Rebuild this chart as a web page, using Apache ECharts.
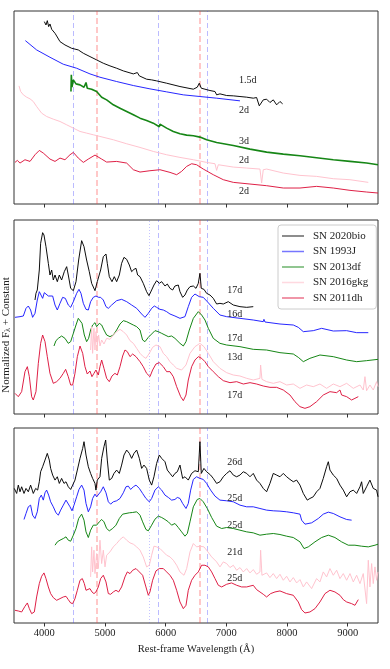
<!DOCTYPE html>
<html>
<head>
<meta charset="utf-8">
<script src="https://cdn.jsdelivr.net/npm/echarts@6/dist/echarts.min.js"></script>
<style>
  html, body { margin: 0; padding: 0; background: #fff; }
  #main { width: 390px; height: 669px; }
</style>
</head>
<body>
<div id="main"></div>
<script>
// wavelength ticks (Angstrom)
var waveTicks = [4000, 5000, 6000, 7000, 8000, 9000];

var snNames = ['SN 2020bio', 'SN 1993J', 'SN 2013df', 'SN 2016gkg', 'SN 2011dh'];

// line ids, Angstrom
var heLines = [4471, 5876, 6678];
var hLines = [4861, 6563];
var dotLines = [5730];

// ---- panel 1 : early epochs ----
var bio_1 = [[4000,5.48],[4027,5.38],[4049,5.51],[4071,5.33],[4093,5.41],[4121,5.25],[4148,5.23],[4176,5.13],[4203,5.05],[4231,5.01],[4258,4.88],[4285,4.85],[4340,4.78],[4450,4.68],[4560,4.63],[4643,4.53],[4752,4.43],[4862,4.33],[4972,4.23],[5082,4.15],[5192,4.08],[5302,4.00],[5467,3.91],[5533,3.95],[5566,3.85],[5686,3.75],[5769,3.73],[5851,3.70],[6016,3.63],[6236,3.53],[6456,3.45],[6521,3.51],[6554,3.63],[6587,3.48],[6648,3.45],[6730,3.41],[6813,3.38],[6840,3.28],[6895,3.31],[7005,3.26],[7115,3.25],[7225,3.23],[7335,3.21],[7444,3.18],[7499,3.20],[7543,2.95],[7609,3.13],[7664,3.15],[7719,3.05],[7774,3.13],[7829,2.98],[7884,3.08],[7928,3.01]];
var j93_1 = [[3687,4.91],[3873,4.63],[4093,4.41],[4313,4.20],[4533,4.08],[4752,3.91],[4917,3.81],[5192,3.68],[5467,3.56],[5741,3.46],[6016,3.37],[6291,3.28],[6565,3.23],[6840,3.18],[7225,3.10]];
var df_1 = [[4439,3.38],[4445,3.88],[4456,3.51],[4478,3.73],[4522,3.61],[4588,3.58],[4654,3.51],[4687,3.65],[4708,3.48],[4780,3.45],[4862,3.38],[4945,3.21],[5027,3.13],[5137,2.98],[5247,2.88],[5357,2.78],[5467,2.68],[5577,2.58],[5686,2.51],[5796,2.43],[5895,2.32],[5906,2.40],[6016,2.28],[6126,2.18],[6236,2.11],[6346,2.07],[6456,2.05],[6565,2.01],[6675,1.93],[6840,1.85],[7115,1.76],[7390,1.65],[7664,1.56],[7939,1.50],[8214,1.45],[8488,1.39],[8763,1.33],[9038,1.28],[9312,1.23],[9500,1.18]];
var gkg_1 = [[3582,3.55],[3610,3.38],[3654,3.28],[3709,3.21],[3764,3.16],[3818,3.08],[3873,2.93],[3956,2.73],[4038,2.63],[4148,2.55],[4258,2.48],[4368,2.38],[4478,2.28],[4588,2.18],[4697,2.13],[4807,2.08],[4917,2.03],[5137,1.93],[5357,1.81],[5577,1.70],[5796,1.58],[6016,1.48],[6236,1.40],[6456,1.33],[6675,1.25],[6813,1.21],[6840,1.01],[6868,1.18],[7115,1.11],[7335,1.08],[7554,1.05],[7582,0.63],[7609,1.03],[7664,1.05],[7939,0.93],[8214,0.86],[8488,0.83],[8763,0.76],[9038,0.73],[9340,0.65]];
var dh_1 = [[3516,1.25],[3555,1.31],[3599,1.23],[3681,1.33],[3764,1.28],[3846,1.48],[3917,1.61],[3983,1.53],[4093,1.35],[4176,1.28],[4258,1.38],[4340,1.33],[4423,1.48],[4478,1.55],[4560,1.38],[4643,1.25],[4725,1.35],[4835,1.47],[4945,1.35],[5027,1.26],[5192,1.28],[5357,1.23],[5467,1.03],[5577,0.96],[5741,1.00],[5906,1.03],[6071,0.95],[6181,0.88],[6263,0.98],[6346,1.13],[6428,1.21],[6510,1.18],[6620,1.05],[6785,0.88],[6950,0.73],[7115,0.65],[7390,0.60],[7664,0.55],[7939,0.48],[8214,0.48],[8488,0.53],[8763,0.48],[9038,0.41],[9312,0.36],[9500,0.33]];

// ---- panel 2 : ~2 weeks ----
var bio_2 = [[3846,3.42],[3862,3.62],[3884,3.72],[3917,4.32],[3939,5.12],[3972,5.44],[3994,5.37],[4027,5.02],[4066,4.52],[4093,4.17],[4121,4.32],[4148,4.02],[4176,4.17],[4214,3.97],[4247,4.17],[4285,4.02],[4329,4.27],[4368,4.42],[4395,4.17],[4434,3.77],[4478,3.70],[4522,3.97],[4566,4.62],[4615,5.20],[4654,5.02],[4697,4.62],[4741,4.27],[4780,3.92],[4835,3.70],[4873,3.97],[4928,4.32],[4972,4.72],[5016,4.80],[5038,4.52],[5071,4.12],[5115,3.97],[5153,4.12],[5192,3.97],[5236,4.17],[5274,4.52],[5313,4.70],[5357,4.64],[5401,4.47],[5439,4.27],[5478,4.34],[5511,4.37],[5538,4.17],[5577,4.12],[5631,3.92],[5686,3.67],[5725,3.55],[5769,3.72],[5807,3.87],[5851,4.00],[5895,3.92],[5934,3.97],[5989,3.84],[6027,3.90],[6071,3.77],[6115,3.72],[6153,3.84],[6208,3.87],[6236,3.67],[6280,3.50],[6318,3.57],[6357,3.72],[6401,3.82],[6456,3.84],[6500,3.77],[6538,3.92],[6565,4.22],[6587,3.77],[6631,3.74],[6675,3.62],[6730,3.57],[6785,3.47],[6840,3.30],[6895,3.32],[6950,3.30],[7032,3.37],[7115,3.27],[7225,3.22],[7335,3.20],[7444,3.22]];
var j93_2 = [[3516,2.90],[3599,2.92],[3654,2.94],[3698,3.17],[3736,3.24],[3774,3.12],[3807,2.90],[3846,3.02],[3884,3.42],[3917,3.67],[3945,3.57],[3972,3.47],[4000,3.64],[4027,3.70],[4066,3.54],[4093,3.50],[4137,3.54],[4176,3.27],[4214,3.12],[4258,3.32],[4302,3.50],[4346,3.47],[4395,3.27],[4434,3.20],[4478,3.37],[4533,3.62],[4571,3.74],[4604,3.62],[4643,3.32],[4687,3.14],[4725,3.12],[4763,3.37],[4807,3.50],[4851,3.54],[4895,3.50],[4928,3.50],[4972,3.42],[5016,3.22],[5055,3.17],[5110,3.27],[5192,3.40],[5274,3.44],[5357,3.37],[5439,3.27],[5522,3.17],[5604,3.00],[5659,2.90],[5714,3.02],[5769,3.17],[5813,3.24],[5851,3.20],[5906,3.14],[5961,3.12],[6016,3.07],[6071,3.00],[6153,2.94],[6236,2.87],[6318,2.92],[6373,3.22],[6428,3.50],[6483,3.60],[6554,3.52],[6620,3.50],[6686,3.37],[6785,3.17],[6895,2.97],[7005,2.92],[7225,2.87],[7444,2.82],[7609,2.77],[7620,2.84],[7637,2.76],[7884,2.70],[8104,2.67],[8186,2.60],[8269,2.47],[8433,2.50],[8571,2.57],[8763,2.49],[8983,2.50],[9148,2.44],[9340,2.44]];
var df_2 = [[4159,2.04],[4192,2.20],[4231,2.27],[4285,2.34],[4340,2.27],[4395,2.12],[4434,2.17],[4478,2.42],[4522,2.67],[4560,2.87],[4588,2.90],[4621,2.72],[4659,2.37],[4697,2.17],[4730,2.27],[4763,2.52],[4796,2.67],[4835,2.74],[4862,2.62],[4906,2.72],[4945,2.67],[4983,2.52],[5027,2.37],[5082,2.32],[5137,2.37],[5192,2.52],[5247,2.70],[5302,2.80],[5357,2.77],[5412,2.72],[5467,2.67],[5522,2.62],[5577,2.52],[5620,2.22],[5659,2.17],[5714,2.30],[5769,2.40],[5824,2.50],[5879,2.47],[5934,2.42],[5989,2.37],[6044,2.32],[6098,2.34],[6153,2.27],[6236,2.12],[6291,2.04],[6335,2.17],[6390,2.52],[6456,2.87],[6538,3.07],[6593,2.97],[6648,2.82],[6703,2.57],[6785,2.27],[6895,2.12],[7005,2.07],[7225,2.02],[7444,1.94],[7664,1.92],[7884,1.84],[8104,1.80],[8186,1.70],[8269,1.57],[8378,1.67],[8543,1.77],[8763,1.72],[8983,1.62],[9148,1.57],[9312,1.60],[9500,1.64]];
var gkg_2 = [[4763,1.92],[4780,2.62],[4796,1.82],[4818,2.57],[4835,1.92],[4851,2.47],[4873,2.07],[4895,2.37],[4917,2.04],[4945,2.22],[4983,2.10],[5027,2.27],[5082,2.24],[5137,2.37],[5192,2.47],[5247,2.54],[5302,2.47],[5357,2.37],[5412,2.20],[5467,2.12],[5522,1.97],[5577,1.82],[5631,1.72],[5675,1.67],[5730,1.82],[5785,2.00],[5840,2.07],[5906,2.02],[5961,1.82],[6016,1.72],[6071,1.57],[6126,1.47],[6181,1.37],[6263,1.32],[6335,1.47],[6401,1.82],[6483,2.02],[6565,2.12],[6631,2.02],[6703,1.82],[6785,1.57],[6895,1.37],[7005,1.24],[7115,1.17],[7225,1.14],[7335,1.07],[7444,1.02],[7554,1.07],[7565,1.47],[7587,1.04],[7664,0.97],[7774,0.92],[7884,0.97],[7994,0.87],[8104,0.90],[8214,0.77],[8323,0.87],[8433,0.82],[8543,0.90],[8653,0.77],[8763,0.90],[8873,0.82],[8983,0.92],[9093,0.77],[9203,0.87],[9257,0.72],[9285,1.12],[9312,0.70],[9367,0.87],[9422,0.72],[9477,0.97],[9500,0.82]];
var dh_2 = [[3516,0.62],[3571,0.52],[3626,0.67],[3681,1.27],[3720,1.42],[3753,1.12],[3791,0.52],[3818,0.42],[3862,0.67],[3901,1.52],[3939,2.12],[3972,2.37],[4011,2.17],[4049,1.72],[4093,1.22],[4148,0.92],[4203,0.97],[4258,1.07],[4313,1.22],[4351,1.34],[4395,1.12],[4434,0.87],[4467,0.87],[4505,1.22],[4544,1.72],[4588,2.04],[4632,1.82],[4670,1.42],[4708,1.20],[4752,1.29],[4785,1.12],[4818,1.22],[4851,1.32],[4890,1.17],[4917,1.42],[4945,1.62],[4983,1.37],[5027,1.07],[5071,0.97],[5115,1.14],[5164,1.22],[5203,1.17],[5247,1.42],[5291,1.74],[5329,1.92],[5368,1.87],[5412,1.72],[5456,1.80],[5511,1.72],[5577,1.57],[5631,1.42],[5686,1.22],[5741,1.12],[5785,1.32],[5840,1.50],[5895,1.54],[5961,1.42],[6016,1.27],[6071,1.27],[6126,1.12],[6181,0.82],[6247,0.52],[6291,0.40],[6335,0.57],[6373,1.02],[6428,1.42],[6483,1.62],[6538,1.72],[6593,1.67],[6648,1.57],[6703,1.42],[6785,1.27],[6868,1.12],[6950,1.00],[7060,0.94],[7170,0.97],[7280,0.90],[7390,0.94],[7499,0.90],[7609,0.84],[7719,0.80],[7829,0.80],[7939,0.72],[8049,0.57],[8131,0.37],[8214,0.22],[8296,0.17],[8378,0.22],[8488,0.37],[8598,0.57],[8708,0.67],[8818,0.64],[8873,0.72],[8900,0.57],[8983,0.52],[9065,0.42],[9120,0.47],[9175,0.52]];

// ---- panel 3 : ~3-4 weeks ----
var bio_3 = [[3505,4.03],[3544,3.88],[3571,4.13],[3599,3.93],[3626,4.08],[3665,3.88],[3698,4.03],[3736,3.93],[3774,4.13],[3818,3.88],[3857,4.03],[3890,3.98],[3917,4.23],[3939,4.53],[3972,4.68],[4011,4.88],[4049,5.08],[4082,4.88],[4104,4.63],[4137,4.43],[4176,4.28],[4214,4.38],[4247,4.18],[4285,4.33],[4324,4.18],[4357,4.23],[4395,4.08],[4434,4.00],[4467,4.13],[4505,4.28],[4544,4.58],[4588,4.93],[4632,5.23],[4654,5.43],[4687,5.03],[4725,4.68],[4763,4.48],[4796,4.33],[4835,4.18],[4851,3.98],[4873,4.28],[4917,4.38],[4945,4.93],[4983,5.28],[5011,5.48],[5038,4.88],[5071,4.28],[5110,4.33],[5148,4.48],[5192,4.58],[5236,4.48],[5274,4.73],[5313,5.03],[5357,5.18],[5401,5.08],[5439,4.93],[5478,5.08],[5522,5.18],[5566,4.93],[5604,4.63],[5642,4.73],[5686,4.63],[5730,4.28],[5769,4.13],[5807,4.38],[5851,4.78],[5895,5.03],[5934,4.93],[5989,4.83],[6027,4.58],[6071,4.48],[6115,4.38],[6153,4.48],[6192,4.53],[6236,4.73],[6280,4.33],[6318,4.38],[6373,4.28],[6428,4.48],[6483,4.56],[6538,4.53],[6565,5.43],[6587,4.48],[6631,4.63],[6675,4.53],[6741,4.43],[6785,4.33],[6840,4.18],[6895,4.23],[6950,4.38],[7005,4.48],[7060,4.56],[7115,4.43],[7170,4.38],[7225,4.43],[7280,4.53],[7335,4.48],[7390,4.38],[7444,4.48],[7499,4.28],[7554,4.18],[7609,4.03],[7664,3.93],[7719,4.18],[7774,4.48],[7829,4.43],[7884,4.38],[7939,4.48],[7994,4.38],[8049,4.30],[8104,4.23],[8159,4.28],[8214,4.13],[8269,3.88],[8334,3.68],[8378,3.73],[8433,3.78],[8488,3.93],[8543,4.03],[8598,4.33],[8653,4.68],[8681,4.83],[8708,4.58],[8763,4.43],[8818,4.33],[8873,4.13],[8928,3.98],[8983,3.78],[9038,3.93],[9093,3.98],[9148,3.88],[9203,4.08],[9230,4.23],[9257,3.88],[9312,4.08],[9367,4.28],[9422,4.03],[9477,3.98],[9500,3.78]];
var j93_3 = [[3665,3.10],[3698,3.28],[3736,3.48],[3774,3.53],[3807,3.23],[3846,3.13],[3884,3.33],[3917,3.73],[3950,3.83],[3983,3.68],[4011,3.90],[4038,3.98],[4071,3.83],[4104,3.63],[4148,3.48],[4192,3.30],[4231,3.23],[4269,3.38],[4313,3.53],[4357,3.68],[4384,3.71],[4423,3.48],[4456,3.36],[4489,3.53],[4533,3.78],[4571,4.00],[4615,4.13],[4654,3.98],[4687,3.58],[4725,3.33],[4763,3.48],[4796,3.73],[4835,3.86],[4862,3.78],[4890,3.73],[4928,3.93],[4972,4.08],[5016,3.90],[5055,3.63],[5093,3.56],[5137,3.63],[5192,3.66],[5247,3.73],[5302,3.90],[5346,4.08],[5384,4.10],[5423,4.00],[5467,4.08],[5511,4.13],[5566,4.03],[5620,3.88],[5675,3.73],[5730,3.63],[5769,3.73],[5824,3.98],[5879,4.08],[5934,3.98],[5989,3.83],[6044,3.76],[6098,3.68],[6153,3.70],[6192,3.76],[6236,3.73],[6280,3.58],[6335,3.43],[6373,3.58],[6412,3.98],[6456,4.30],[6510,4.38],[6565,4.33],[6620,4.30],[6675,4.18],[6741,3.98],[6813,3.80],[6895,3.68],[7005,3.66],[7115,3.63],[7225,3.53],[7335,3.48],[7444,3.48],[7554,3.43],[7664,3.38],[7774,3.36],[7884,3.35],[7994,3.33],[8104,3.30],[8214,3.26],[8241,3.08],[8296,2.96],[8406,3.00],[8516,3.13],[8598,3.26],[8681,3.32],[8763,3.28],[8873,3.18],[8983,3.10],[9065,3.08]];
var df_3 = [[4176,2.33],[4214,2.43],[4258,2.48],[4313,2.53],[4357,2.58],[4395,2.48],[4434,2.45],[4478,2.63],[4522,2.83],[4566,3.13],[4615,3.26],[4654,3.08],[4687,2.73],[4725,2.56],[4763,2.78],[4807,2.93],[4835,2.98],[4862,2.93],[4906,3.03],[4945,3.10],[4983,3.03],[5027,2.83],[5071,2.76],[5126,2.83],[5181,2.93],[5236,3.13],[5291,3.26],[5346,3.28],[5401,3.30],[5456,3.31],[5522,3.33],[5577,3.23],[5620,3.03],[5675,2.80],[5714,2.76],[5769,2.93],[5824,3.11],[5879,3.20],[5934,3.16],[5989,3.10],[6044,3.03],[6098,2.93],[6153,2.98],[6208,2.86],[6263,2.73],[6318,2.60],[6357,2.68],[6401,3.03],[6456,3.48],[6521,3.70],[6565,3.73],[6620,3.63],[6686,3.43],[6758,3.16],[6840,2.90],[6923,2.83],[7005,2.86],[7115,2.83],[7225,2.78],[7335,2.73],[7444,2.70],[7554,2.63],[7664,2.66],[7774,2.68],[7884,2.65],[7994,2.60],[8104,2.56],[8214,2.43],[8280,2.23],[8351,2.28],[8461,2.43],[8571,2.56],[8681,2.63],[8790,2.56],[8900,2.43],[9010,2.33],[9120,2.33],[9230,2.30],[9340,2.28],[9450,2.33],[9500,2.36]];
var gkg_3 = [[4763,1.38],[4780,2.28],[4796,1.53],[4818,2.18],[4835,1.48],[4862,2.08],[4890,1.63],[4917,2.48],[4945,1.78],[4972,2.18],[5000,1.68],[5027,2.03],[5082,2.13],[5137,2.28],[5192,2.38],[5247,2.50],[5302,2.58],[5357,2.48],[5412,2.40],[5467,2.36],[5522,2.28],[5577,2.18],[5631,1.98],[5686,1.68],[5730,1.73],[5769,2.03],[5807,2.30],[5851,2.28],[5906,2.23],[5961,2.13],[6016,2.03],[6071,1.98],[6126,1.88],[6181,1.73],[6236,1.53],[6302,1.43],[6346,1.63],[6401,2.13],[6456,2.38],[6510,2.28],[6565,2.30],[6631,2.28],[6675,2.18],[6758,1.98],[6840,1.83],[6895,1.68],[6950,1.83],[7005,1.78],[7060,1.66],[7115,1.73],[7170,1.58],[7225,1.66],[7280,1.53],[7335,1.63],[7390,1.50],[7444,1.60],[7499,1.46],[7554,1.53],[7565,2.18],[7587,1.43],[7664,1.50],[7719,1.36],[7774,1.48],[7829,1.33],[7884,1.46],[7939,1.28],[7994,1.40],[8049,1.23],[8104,1.36],[8159,1.20],[8214,1.30],[8269,1.08],[8323,1.23],[8406,1.03],[8488,1.33],[8543,1.23],[8598,1.53],[8653,1.38],[8708,1.63],[8763,1.43],[8818,1.58],[8873,1.33],[8928,1.48],[8983,1.28],[9038,1.48],[9093,1.23],[9148,1.43],[9203,1.18],[9257,1.48],[9312,0.58],[9340,1.88],[9367,1.08],[9395,1.78],[9422,1.18],[9450,1.68],[9477,1.28],[9500,1.53]];
var dh_3 = [[3516,0.38],[3571,0.36],[3626,0.33],[3681,0.50],[3720,0.60],[3753,0.43],[3791,0.28],[3835,0.33],[3873,0.78],[3917,1.18],[3956,1.40],[3994,1.50],[4027,1.33],[4066,1.08],[4104,0.88],[4148,0.76],[4203,0.68],[4258,0.73],[4313,0.78],[4357,0.80],[4395,0.70],[4434,0.60],[4467,0.58],[4505,0.73],[4544,0.98],[4588,1.28],[4626,1.33],[4659,1.18],[4687,0.98],[4719,1.03],[4752,1.03],[4785,0.93],[4818,0.88],[4851,0.93],[4890,1.08],[4928,1.33],[4972,1.43],[5016,1.23],[5055,0.88],[5093,0.86],[5137,0.93],[5181,0.98],[5225,0.93],[5274,1.08],[5329,1.38],[5368,1.53],[5412,1.48],[5456,1.58],[5511,1.63],[5566,1.53],[5620,1.43],[5675,1.08],[5714,0.83],[5741,0.93],[5785,1.28],[5840,1.56],[5895,1.63],[5961,1.63],[6016,1.53],[6071,1.43],[6126,1.28],[6181,0.98],[6236,0.63],[6291,0.43],[6335,0.53],[6373,0.98],[6428,1.28],[6483,1.43],[6538,1.53],[6593,1.73],[6648,1.73],[6703,1.68],[6758,1.53],[6813,1.33],[6868,1.13],[6923,1.08],[7005,1.16],[7087,1.20],[7170,1.13],[7252,1.08],[7335,1.08],[7444,1.13],[7499,1.00],[7554,0.93],[7609,0.86],[7664,0.78],[7730,0.88],[7802,0.93],[7884,0.96],[7994,0.88],[8104,0.83],[8186,0.63],[8241,0.40],[8296,0.30],[8378,0.33],[8461,0.43],[8543,0.63],[8626,0.88],[8708,0.98],[8790,0.93],[8873,0.83],[8928,0.70],[8983,0.63],[9065,0.58],[9120,0.53],[9175,0.70]];

// epochs (days) shown next to each spectrum
var epochs_1 = ['1.5d', '2d', '3d', '2d', '2d'];
var epochs_2 = ['17d', '16d', '17d', '13d', '17d'];
var epochs_3 = ['26d', '25d', '25d', '21d', '25d'];
// where the epoch text sits [wavelength, flux]
var epochAt_1 = [[7202,3.73],[7202,2.81],[7202,1.88],[7202,1.31],[7202,0.38]];
var epochAt_2 = [[7005,3.72],[7005,2.99],[7005,2.27],[7005,1.69],[7005,0.55]];
var epochAt_3 = [[7005,4.80],[7005,3.73],[7005,2.93],[7005,2.11],[7005,1.35]];

var panels = [
    [bio_1, j93_1, df_1, gkg_1, dh_1],
    [bio_2, j93_2, df_2, gkg_2, dh_2],
    [bio_3, j93_3, df_3, gkg_3, dh_3]
];
var epochs = [epochs_1, epochs_2, epochs_3];
var epochAt = [epochAt_1, epochAt_2, epochAt_3];

var dom = document.getElementById('main');
var myChart = echarts.init(dom, null, {renderer: 'canvas'});

var serif = 'Liberation Serif';
var colors = ['#000000', '#1a1aff', '#0a800a', '#ffc0cb', '#dc143c'];
var yMax = [5.8, 5.82, 5.84];
var gridTop = [11, 220, 428];
var gridH = [193, 194, 195];

function vlines(p) {
    var out = [];
    heLines.forEach(function(w) {
        out.push({xAxis: w, lineStyle: {color: 'rgba(60,60,255,0.35)', type: [5, 3], width: 1}});
    });
    hLines.forEach(function(w) {
        out.push({xAxis: w, lineStyle: {color: 'rgba(255,60,60,0.35)', type: [6, 3], width: 1.6}});
    });
    if (p > 0) {
        dotLines.forEach(function(w) {
            out.push({xAxis: w, lineStyle: {color: 'rgba(90,90,255,0.35)', type: [1, 2], width: 1}});
        });
    }
    return out;
}

var grids = [], xAxes = [], yAxes = [], series = [];
for (var p = 0; p < 3; p++) {
    grids.push({left: 14, width: 364, top: gridTop[p], height: gridH[p],
        show: true, borderColor: '#333', borderWidth: 1, backgroundColor: 'transparent'});
    xAxes.push({
        type: 'value', gridIndex: p, min: 3500, max: 9500,
        axisLine: {show: false},
        axisTick: {show: true, inside: false, length: 3.5, customValues: waveTicks,
            lineStyle: {color: '#333', width: 1}},
        axisLabel: {show: p === 2, customValues: waveTicks, margin: 5,
            formatter: function(v) { return String(v); },
            fontFamily: serif, fontSize: 10.5, color: '#222'},
        splitLine: {show: false},
        name: p === 2 ? 'Rest-frame Wavelength (\u00c5)' : '',
        nameLocation: 'middle', nameGap: 21,
        nameTextStyle: {fontFamily: serif, fontSize: 10.5, color: '#222'}
    });
    yAxes.push({type: 'value', gridIndex: p, min: 0, max: yMax[p], show: false,
        splitLine: {show: false}});

    for (var k = 0; k < 5; k++) {
        var s = {
            type: 'line', name: snNames[k],
            xAxisIndex: p, yAxisIndex: p,
            data: panels[p][k],
            symbol: 'none', smooth: false,
            lineStyle: {color: colors[k], width: (p === 0 && k === 2) ? 1.6 : 1, opacity: 0.95},
            itemStyle: {color: colors[k]},
            z: 3 + k,
            markPoint: {
                symbol: 'circle', symbolSize: 1,
                itemStyle: {color: 'rgba(0,0,0,0)'},
                label: {show: true, position: 'right', distance: 0, formatter: '{b}',
                    fontFamily: serif, fontSize: 10, color: '#222'},
                data: [{name: epochs[p][k], coord: epochAt[p][k]}]
            }
        };
        if (k === 0) {
            s.markLine = {silent: true, symbol: ['none', 'none'], label: {show: false},
                z: 1, data: vlines(p)};
        }
        series.push(s);
    }
}

var option = {
    animation: false,
    backgroundColor: '#fff',
    grid: grids,
    xAxis: xAxes,
    yAxis: yAxes,
    legend: {
        data: snNames,
        orient: 'vertical',
        left: 278, top: 225,
        padding: [5, 8, 5, 4],
        icon: 'rect',
        itemWidth: 22, itemHeight: 1.5, itemGap: 3.5,
        backgroundColor: '#fff',
        borderColor: '#ccc', borderWidth: 1, borderRadius: 3,
        itemStyle: {opacity: 0.6},
        textStyle: {fontFamily: serif, fontSize: 11, color: '#222', lineHeight: 12, padding: [0, 0, 0, 4]}
    },
    graphic: [{
        type: 'text',
        x: 6, y: 335,
        rotation: Math.PI / 2,
        style: {
            text: 'Normalized F{sub|\u03bb} + Constant',
            font: '11px ' + serif,
            fill: '#222',
            align: 'center', verticalAlign: 'middle',
            rich: {sub: {fontSize: 8, fontFamily: serif, verticalAlign: 'bottom', padding: [4, 0, 0, 0]}}
        }
    }],
    series: series
};

myChart.setOption(option);
</script>
</body>
</html>
